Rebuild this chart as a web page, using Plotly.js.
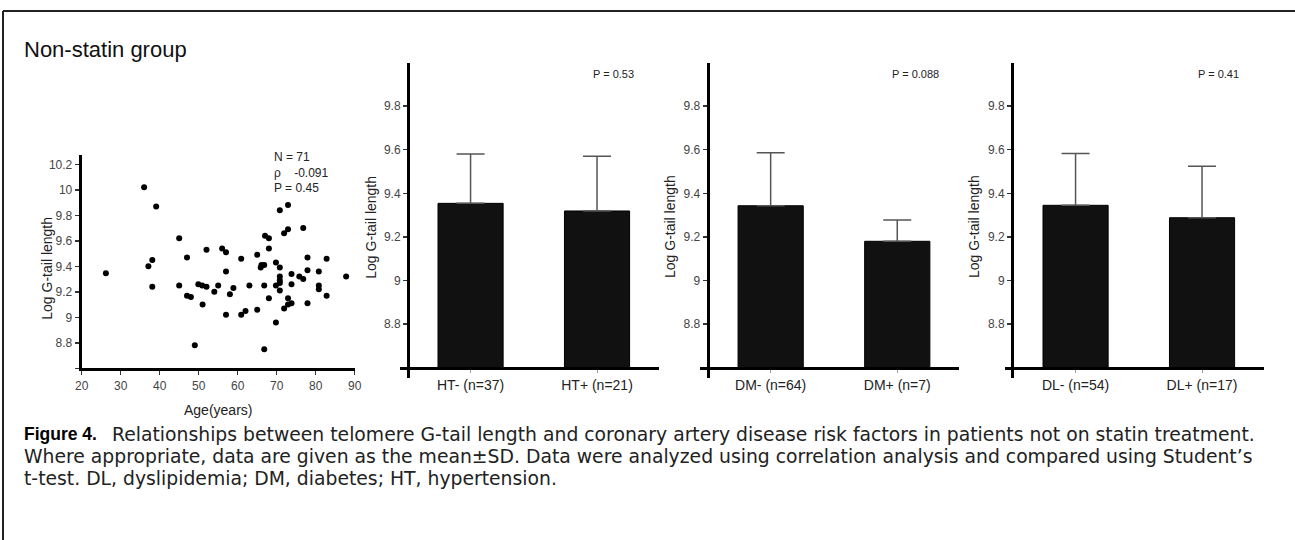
<!DOCTYPE html>
<html>
<head>
<meta charset="utf-8">
<script src="https://cdn.plot.ly/plotly-3.0.1.min.js"></script>
<style>html,body{margin:0;padding:0;background:#fff;}#chart{width:1295px;height:540px;}</style>
</head>
<body>
<div id="chart"></div>
<script>
// ---- data ----
const ages = [36.0,39.1,45.0,52.0,47.0,38.1,37.1,26.2,38.1,45.0,49.9,50.9,52.0,55.0,54.0,47.0,48.0,51.0,49.0,
  72.9,70.8,76.8,72.9,71.9,67.0,68.0,56.0,57.0,68.0,65.0,60.9,77.9,82.8,69.8,66.1,66.8,65.9,70.8,77.9,80.8,57.0,
  73.8,87.8,75.8,76.8,70.8,70.8,70.8,73.8,80.8,80.8,58.9,58.0,63.0,66.8,69.8,70.8,82.8,68.0,72.9,73.8,72.9,71.9,
  77.9,57.0,60.9,62.0,65.0,69.8,66.8];
const logGtail = [10.02,9.87,9.62,9.53,9.47,9.45,9.40,9.345,9.24,9.25,9.26,9.25,9.24,9.25,9.20,9.17,9.16,9.10,8.78,
  9.88,9.84,9.70,9.69,9.66,9.64,9.62,9.54,9.51,9.54,9.49,9.46,9.47,9.46,9.43,9.41,9.41,9.39,9.39,9.37,9.36,9.36,
  9.34,9.32,9.32,9.30,9.32,9.29,9.27,9.26,9.25,9.22,9.23,9.18,9.25,9.25,9.25,9.21,9.17,9.15,9.15,9.11,9.10,9.07,
  9.11,9.02,9.02,9.05,9.06,8.96,8.75];

const htCats = ['HT- (n=37)', 'HT+ (n=21)'];
const htMean = [9.354, 9.319];
const htSD = [0.226, 0.251];
const dmCats = ['DM- (n=64)', 'DM+ (n=7)'];
const dmMean = [9.343, 9.180];
const dmSD = [0.243, 0.098];
const dlCats = ['DL- (n=54)', 'DL+ (n=17)'];
const dlMean = [9.345, 9.288];
const dlSD = [0.238, 0.236];
const pValues = ['P = 0.53', 'P = 0.088', 'P = 0.41'];
const scatterTickVals = [8.6, 8.8, 9, 9.2, 9.4, 9.6, 9.8, 10, 10.2];
const scatterTickText = ['', '8.8', '9', '9.2', '9.4', '9.6', '9.8', '10', '10.2'];
const barTickVals = [8.8, 9, 9.2, 9.4, 9.6, 9.8];
const barTickText = ['8.8', '9', '9.2', '9.4', '9.6', '9.8'];
const ageTicks = [20, 30, 40, 50, 60, 70, 80, 90];

// ---- layout helpers ----
const W = 1295, H = 540;
const X = p => p / W;
const Y = p => 1 - p / H;
const FONT = 'Liberation Sans, Arial, sans-serif';
const CAPFONT = 'DejaVu Sans, Liberation Sans, sans-serif';
const BASE = 8.6;

function barTrace(cats, mean, sd, xa, ya) {
  return {
    type: 'bar', x: cats, y: mean.map(v => v - BASE), base: BASE,
    xaxis: xa, yaxis: ya, width: 0.515,
    marker: {color: '#111', line: {color: '#000', width: 1}},
    error_y: {type: 'data', symmetric: false, array: sd, arrayminus: sd.map(() => 0),
      color: '#555', thickness: 1.5, width: 14},
    hoverinfo: 'x+y', showlegend: false
  };
}

const traces = [
  {type: 'scatter', mode: 'markers', x: ages, y: logGtail, xaxis: 'x', yaxis: 'y',
   marker: {color: '#000', size: 6}, showlegend: false, cliponaxis: false},
  barTrace(htCats, htMean, htSD, 'x2', 'y2'),
  barTrace(dmCats, dmMean, dmSD, 'x3', 'y3'),
  barTrace(dlCats, dlMean, dlSD, 'x4', 'y4')
];

const axLine = {showline: true, linecolor: '#000', linewidth: 3, showgrid: false, zeroline: false,
  ticks: 'outside', tickcolor: '#333', tickwidth: 1.5, ticklen: 4,
  tickfont: {family: FONT, size: 12, color: '#444'}};

function barX(d0, d1, yPos) {
  return Object.assign({}, axLine, {
    domain: [X(d0), X(d1)], range: [-0.558, 1.49], type: 'category',
    anchor: 'free', position: Y(yPos), ticklen: 3, tickcolor: '#999', tickwidth: 1,
    tickfont: {family: FONT, size: 14, color: '#222'}, fixedrange: true
  });
}
function barY(xPos) {
  return Object.assign({}, axLine, {
    domain: [Y(378), Y(62.5)], range: [8.553, 10.0],
    anchor: 'free', position: X(xPos), tickvals: barTickVals, ticktext: barTickText,
    tickfont: {family: FONT, size: 12, color: '#444'}, fixedrange: true
  });
}

const ann = [];
function txt(text, x, y, size, opts) {
  ann.push(Object.assign({text: text, x: X(x), y: Y(y), xref: 'paper', yref: 'paper',
    xanchor: 'center', yanchor: 'middle',
    showarrow: false, font: {family: FONT, size: size, color: '#222'}}, opts || {}));
}
txt('Non-statin group', 22, 49, 22, {xanchor: 'left', font: {family: FONT, size: 22, color: '#111'}});
txt('Log G-tail length', 46.7, 268, 14, {textangle: -90});
txt('Age(years)', 218, 410, 14);
txt('N = 71<br>ρ&nbsp;&nbsp;&nbsp;&nbsp;-0.091<br>P = 0.45', 271.7, 172, 12, {xanchor: 'left', align: 'left'});
[370.7, 670, 974].forEach(x => txt('Log G-tail length', x, 227, 14, {textangle: -90}));
[[613, 0], [915, 1], [1218, 2]].forEach(([x, i]) => txt(pValues[i], x, 74, 11));
const capSize = 18.8;
const capFont = {family: CAPFONT, size: capSize, color: '#222'};
txt('Figure 4.', 22, 434, 17.5, {xanchor: 'left', font: {family: FONT, size: 17.5, color: '#000', weight: 'bold'}});
txt('Relationships between telomere G-tail length and coronary artery disease risk factors in patients not on statin treatment.', 110, 434, capSize, {xanchor: 'left', font: capFont});
txt('Where appropriate, data are given as the mean±SD. Data were analyzed using correlation analysis and compared using Student’s', 22, 456, capSize, {xanchor: 'left', font: capFont});
txt('t-test. DL, dyslipidemia; DM, diabetes; HT, hypertension.', 22, 478, capSize, {xanchor: 'left', font: capFont});

const layout = {
  width: W, height: H, margin: {l: 0, r: 0, t: 0, b: 0},
  paper_bgcolor: '#fff', plot_bgcolor: 'rgba(0,0,0,0)',
  font: {family: FONT},
  xaxis: Object.assign({}, axLine, {domain: [X(81.7), X(354.7)], range: [20, 90], tickvals: ageTicks, anchor: 'y', fixedrange: true}),
  yaxis: Object.assign({}, axLine, {domain: [Y(368.3), Y(155)], range: [8.6, 10.273], tickvals: scatterTickVals, ticktext: scatterTickText, anchor: 'x', fixedrange: true}),
  xaxis2: barX(400, 659, 367.7),
  yaxis2: barY(408),
  xaxis3: barX(700, 959.3, 367.7),
  yaxis3: barY(707.7),
  xaxis4: barX(1005, 1264, 367.7),
  yaxis4: barY(1012),
  bargap: 0,
  annotations: ann,
  shapes: [
    {type: 'line', xref: 'paper', yref: 'paper', x0: X(3), x1: X(1295), y0: Y(11), y1: Y(11), line: {color: '#222', width: 2}},
    {type: 'line', xref: 'paper', yref: 'paper', x0: X(3), x1: X(3), y0: Y(11), y1: Y(540), line: {color: '#222', width: 2}}
  ]
};

Plotly.newPlot('chart', traces, layout, {displayModeBar: false, staticPlot: true});
</script>
</body>
</html>
